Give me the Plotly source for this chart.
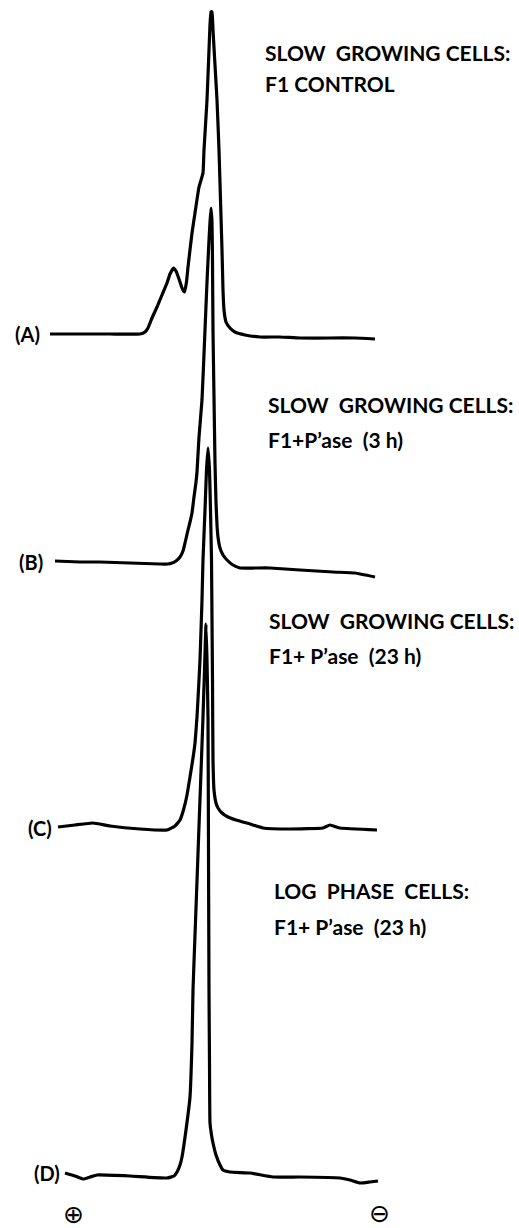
import plotly.graph_objects as go

# Migration position (px-scale units) and absorbance (px-scale units above baseline)
xA = [50, 80, 110, 140, 145, 148, 152, 157, 162, 167, 170, 173.5, 176, 179, 182, 184.5, 186.5,
      188, 192, 195, 199, 203, 204, 207, 209, 210, 211, 212, 213, 215, 217, 219, 220.5, 222, 223,
      224, 226, 230, 235, 245, 260, 280, 300, 330, 355, 375]
yA = [0, 0, 0, 0, 2, 6, 16, 27, 39, 51, 60, 66, 63, 55, 46, 42, 52,
      67, 101, 121, 147, 161, 184, 234, 284, 309, 322, 322, 304, 269, 234, 184, 134, 84, 44,
      24, 12, 6, 2, -1, -3, -3, -4, -4, -4, -5]

xB = [55, 80, 100, 130, 160, 168, 172, 176, 180, 183, 185, 188, 190, 192, 194, 196, 197, 199,
      202, 205, 207, 209, 210, 211, 212, 212.5, 213, 214, 215, 216, 217, 218, 220, 223, 227,
      233, 240, 255, 270, 300, 333, 355, 375]
yB = [1, 0, 0, -1, -2, -2, -1, 1, 5, 11, 19, 32, 40, 49, 65, 80, 90, 125,
      162, 232, 280, 322, 340, 354, 340, 300, 232, 165, 99, 60, 37, 25, 14, 7, 2,
      -3, -6, -6, -6, -8, -10, -11, -15]

xC = [58, 75, 93, 110, 140, 167, 175, 180, 184, 187, 190, 193, 195, 197, 199, 200, 202, 203,
      205, 206.5, 208, 209.5, 210.5, 211.5, 212, 212.5, 213, 214, 216, 218, 222, 228, 236,
      250, 263, 290, 323, 330, 340, 377]
yC = [1, 3, 5, 2, -1, -2, 2, 8, 20, 33, 51, 70, 85, 111, 148, 168, 228, 268,
      318, 358, 380, 358, 318, 268, 208, 148, 68, 38, 25, 20, 15, 11, 8,
      4, 0, -1, 0, 3, 0, -2]

xD = [65, 75, 83, 90, 97, 130, 167, 174, 177, 180, 182, 186, 190, 192, 193, 195, 197, 199,
      201, 203, 204.5, 206, 207, 208, 208.5, 209, 209.5, 210, 211.5, 213, 216, 220, 223, 230,
      250, 273, 300, 340, 350, 360, 370, 378]
yD = [0, -3, -6, -4, -2, -3, -5, -3, 1, 8, 16, 43, 76, 130, 183, 238, 292, 347,
      401, 456, 503, 549, 513, 456, 320, 183, 110, 50, 38, 30, 18, 8, 3, 1,
      0, -4, -4, -5, -7, -10, -9, -8]

trace_labels = ["(A)", "(B)", "(C)", "(D)"]
titles = [
    ["SLOW  GROWING CELLS:", "F1 CONTROL"],
    ["SLOW  GROWING CELLS:", "F1+P\u2019ase  (3 h)"],
    ["SLOW  GROWING CELLS:", "F1+ P\u2019ase  (23 h)"],
    ["LOG  PHASE  CELLS:", "F1+ P\u2019ase  (23 h)"],
]

W, H = 519, 1228
# layout: baselines (page px from top), label x, title x / line centers
baselines = [334, 562, 828, 1173]
label_x = [27, 31, 40, 47]
title_x = [263, 266, 267, 272]
title_y = [(52, 83), (404, 439), (620, 655), (890, 926)]

FONT = "Lato, Roboto, sans-serif"

fig = go.Figure()
for xs, ys, b in zip([xA, xB, xC, xD], [yA, yB, yC, yD], baselines):
    fig.add_trace(go.Scatter(
        x=xs, y=[H - b + v for v in ys], mode="lines",
        line=dict(color="black", width=3.2, shape="spline", smoothing=0.35),
        hoverinfo="skip", showlegend=False))

ann = []
for lab, b, lx in zip(trace_labels, baselines, label_x):
    ann.append(dict(x=lx, y=H - b, text=lab, showarrow=False, xanchor="center", yanchor="middle",
                    font=dict(family=FONT, size=20, color="black", weight="bold")))
for (l1, l2), tx, (y1, y2) in zip(titles, title_x, title_y):
    for t, yy in [(l1, y1), (l2, y2)]:
        ann.append(dict(x=tx, y=H - yy, text=t, showarrow=False, xanchor="left", yanchor="middle",
                        font=dict(family=FONT, size=21, color="black", weight="bold")))
ann.append(dict(x=73, y=H - 1214, text="\u2295", showarrow=False, xanchor="center", yanchor="middle",
                font=dict(family="DejaVu Sans", size=25, color="black")))
ann.append(dict(x=379, y=H - 1213, text="\u2296", showarrow=False, xanchor="center", yanchor="middle",
                font=dict(family="DejaVu Sans", size=25, color="black")))

fig.update_layout(
    width=W, height=H, margin=dict(l=0, r=0, t=0, b=0),
    paper_bgcolor="white", plot_bgcolor="white",
    xaxis=dict(range=[0, W], visible=False, fixedrange=True),
    yaxis=dict(range=[0, H], visible=False, fixedrange=True),
    annotations=ann,
)
fig.write_html("out.html")
